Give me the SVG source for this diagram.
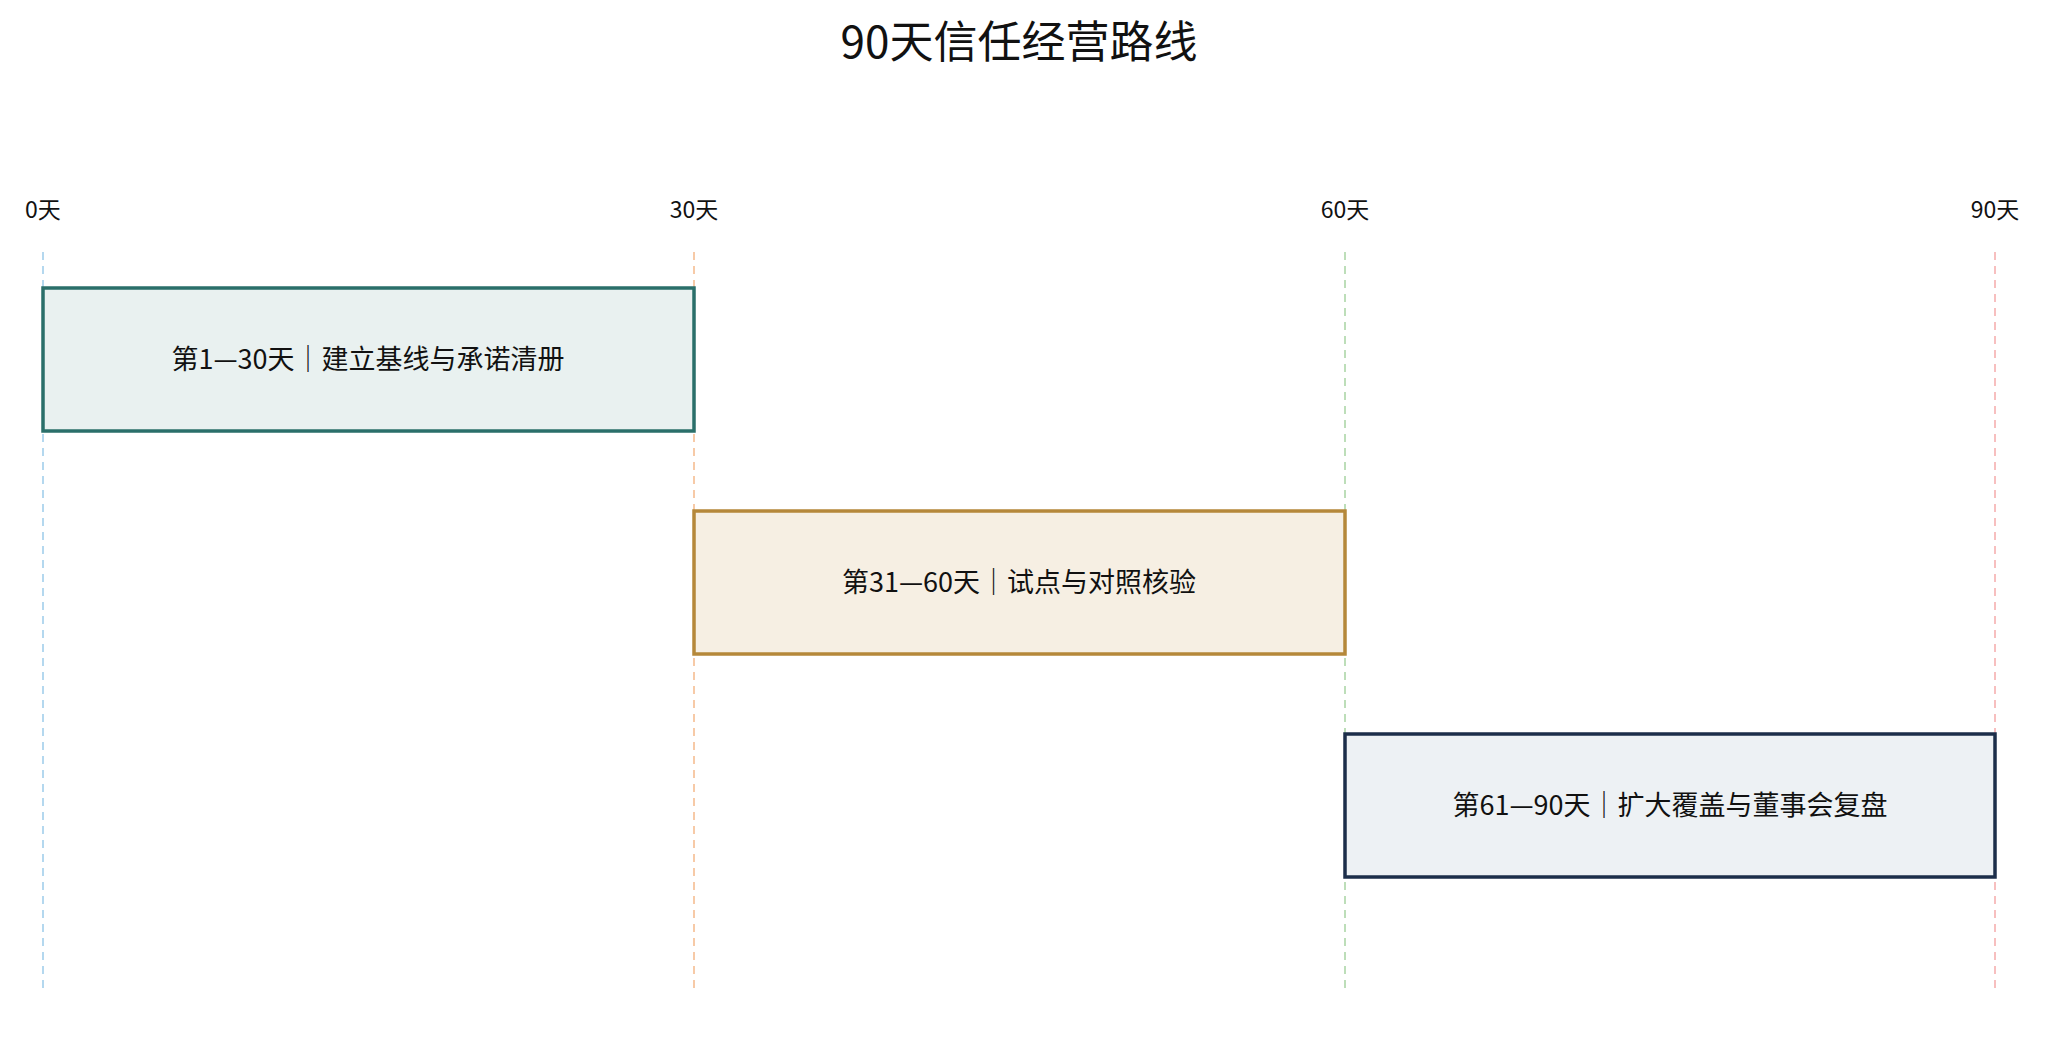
<svg xmlns="http://www.w3.org/2000/svg" width="2045" height="1056" viewBox="0 0 2045 1056">
<style>
text{font-family:"Noto Sans CJK SC","Noto Sans",sans-serif;fill:#111}
.t{font-size:44px;text-anchor:middle}
.ax{font-size:23px;text-anchor:middle}
.lb{font-size:27px;text-anchor:middle;dominant-baseline:central}
.g{stroke-width:1.5;stroke-dasharray:8 6;fill:none}
.b{stroke-width:3.5}
</style>
<rect width="2045" height="1056" fill="#fff"/>
<text class="t" x="1019" y="58">90天信任经营路线</text>
<g id="axis">
<text class="ax" x="43" y="218">0天</text>
<text class="ax" x="694" y="218">30天</text>
<text class="ax" x="1345" y="218">60天</text>
<text class="ax" x="1995" y="218">90天</text>
</g>
<g id="connectors">
<line class="g" x1="43" y1="252" x2="43" y2="988" stroke="#9ccbea"/>
<line class="g" x1="694" y1="252" x2="694" y2="988" stroke="#f5b98a"/>
<line class="g" x1="1345" y1="252" x2="1345" y2="988" stroke="#a8d4a3"/>
<line class="g" x1="1995" y1="252" x2="1995" y2="988" stroke="#f5aaaa"/>
</g>
<g id="phase1">
<rect class="b" x="43" y="288" width="651" height="143" fill="#e9f1f0" stroke="#2a6f6a"/>
<text class="lb" x="368" y="357">第1—30天｜建立基线与承诺清册</text>
</g>
<g id="phase2">
<rect class="b" x="694" y="511" width="651" height="143" fill="#f6efe3" stroke="#b5883a"/>
<text class="lb" x="1019" y="580">第31—60天｜试点与对照核验</text>
</g>
<g id="phase3">
<rect class="b" x="1345" y="734" width="650" height="143" fill="#edf1f4" stroke="#1c2e4a"/>
<text class="lb" x="1670" y="803">第61—90天｜扩大覆盖与董事会复盘</text>
</g>
</svg>
